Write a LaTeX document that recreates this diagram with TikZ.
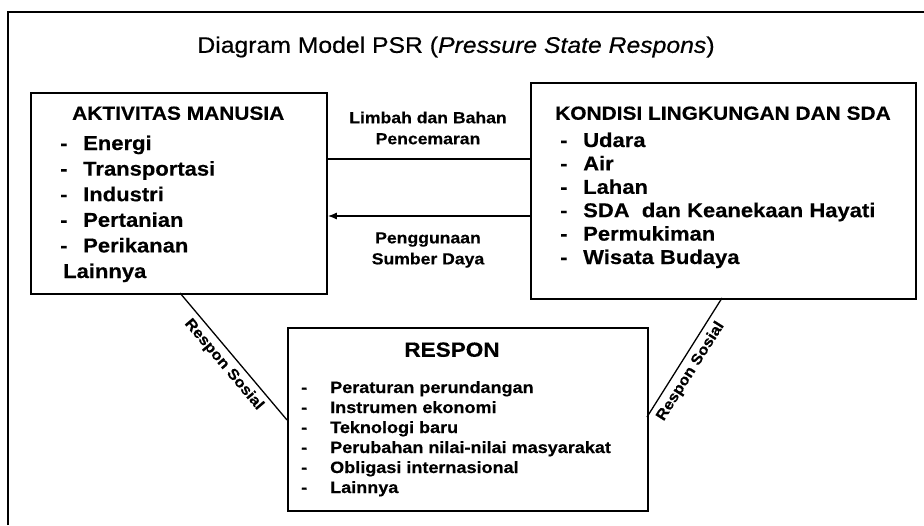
\documentclass[tikz,border=0pt]{standalone}
\usepackage{fontspec}
\setmainfont{Liberation Sans}[FakeStretch=1.1, BoldFeatures={FakeBold=0.4}]
\newfontfamily\hurufjudul{Liberation Sans}[FakeStretch=1.1, FakeBold=0.5]
\usetikzlibrary{arrows.meta}
\newcommand{\drawtebal}{\draw[line width=1.8pt]}
\newcommand{\drawgaris}{\draw[line width=1.3pt]}
\tikzset{
  kotak/.style={draw, line width=1.8pt, anchor=north west, inner sep=0pt},
  judul/.style={font=\hurufjudul\fontsize{22.5}{27}\selectfont, inner sep=0pt},
  kepala/.style={font=\bfseries\fontsize{19}{23}\selectfont, anchor=west, inner sep=0pt, text height=13.5pt, text depth=0pt},
  isi/.style={font=\bfseries\fontsize{20}{24}\selectfont, anchor=west, inner sep=0pt, text height=14pt, text depth=0pt},
  isikecil/.style={font=\bfseries\fontsize{16.4}{20}\selectfont, anchor=west, inner sep=0pt, text height=12pt, text depth=0pt},
  tengah/.style={font=\bfseries\fontsize{16}{21}\selectfont, align=center, inner sep=0pt},
  sosial/.style={font=\bfseries\fontsize{15}{18}\selectfont, sloped, below, inner sep=5pt}
}
\begin{document}
\begin{tikzpicture}[x=1pt,y=-1pt]
\useasboundingbox (0,0) rectangle (924,525);
% bingkai luar
\drawtebal (8,525) -- (8,12) -- (924,12);
\node[judul] (judul) at (456,47) {Diagram Model PSR (\textit{Pressure State Respons})};

% tiga kotak
\node[kotak, minimum width=296pt, minimum height=201pt] (aktivitas) at (30,92) {};
\node[kotak, minimum width=385pt, minimum height=216pt] (kondisi) at (530,82) {};
\node[kotak, minimum width=360pt, minimum height=183pt] (respon) at (287,327) {};

% isi aktivitas
\node[kepala] (aktivitasjudul) at (72,113) {AKTIVITAS MANUSIA};
\foreach \isian [count=\i] in {Energi,Transportasi,Industri,Pertanian,Perikanan}{
  \node[isi] (aktivitasdash\i) at (60,{143+(\i-1)*25.6}) {-};
  \node[isi] (aktivitas\i) at (83,{143+(\i-1)*25.6}) {\isian};
}
\node[isi] (aktivitas6) at (63,271) {Lainnya};

% isi kondisi
\node[kepala] (kondisijudul) at (555,113) {KONDISI LINGKUNGAN DAN SDA};
\foreach \isian [count=\i] in {Udara,Air,Lahan,SDA\ \ dan Keanekaan Hayati,Permukiman,Wisata Budaya}{
  \node[isi] (kondisidash\i) at (560,{140+(\i-1)*23.4}) {-};
  \node[isi] (kondisi\i) at (583,{140+(\i-1)*23.4}) {\isian};
}

% isi respon
\node[kepala, anchor=center, font=\bfseries\fontsize{20.5}{25}\selectfont] (responjudul) at (452,350) {RESPON};
\foreach \isian [count=\i] in {Peraturan perundangan,Instrumen ekonomi,Teknologi baru,Perubahan nilai-nilai masyarakat,Obligasi internasional,Lainnya}{
  \node[isikecil] (respondash\i) at (301,{387+(\i-1)*20}) {-};
  \node[isikecil] (respon\i) at (330,{387+(\i-1)*20}) {\isian};
}

% penghubung
\coordinate (atas) at (0,159);
\coordinate (bawah) at (0,216);
\drawgaris (aktivitas.east |- atas) -- (kondisi.west |- atas);
\drawgaris[-{Latex[length=9pt,width=7pt]}] (kondisi.west |- bawah) -- (aktivitas.east |- bawah);
\node[tengah] (limbah) at (428,128) {Limbah dan Bahan\\Pencemaran};
\node[tengah] (penggunaan) at (428,250) {Penggunaan\\Sumber Daya};

\coordinate (sosialkiriA) at (180,293);
\coordinate (sosialkiriB) at (287,420);
\coordinate (sosialkananA) at (647,417);
\coordinate (sosialkananB) at (722,298);
\drawgaris (sosialkiriA) -- node[sosial, pos=.5] (sosialkiri) {Respon Sosial} (sosialkiriB);
\drawgaris (sosialkananA) -- node[sosial, pos=.44] (sosialkanan) {Respon Sosial} (sosialkananB);
\end{tikzpicture}
\end{document}
